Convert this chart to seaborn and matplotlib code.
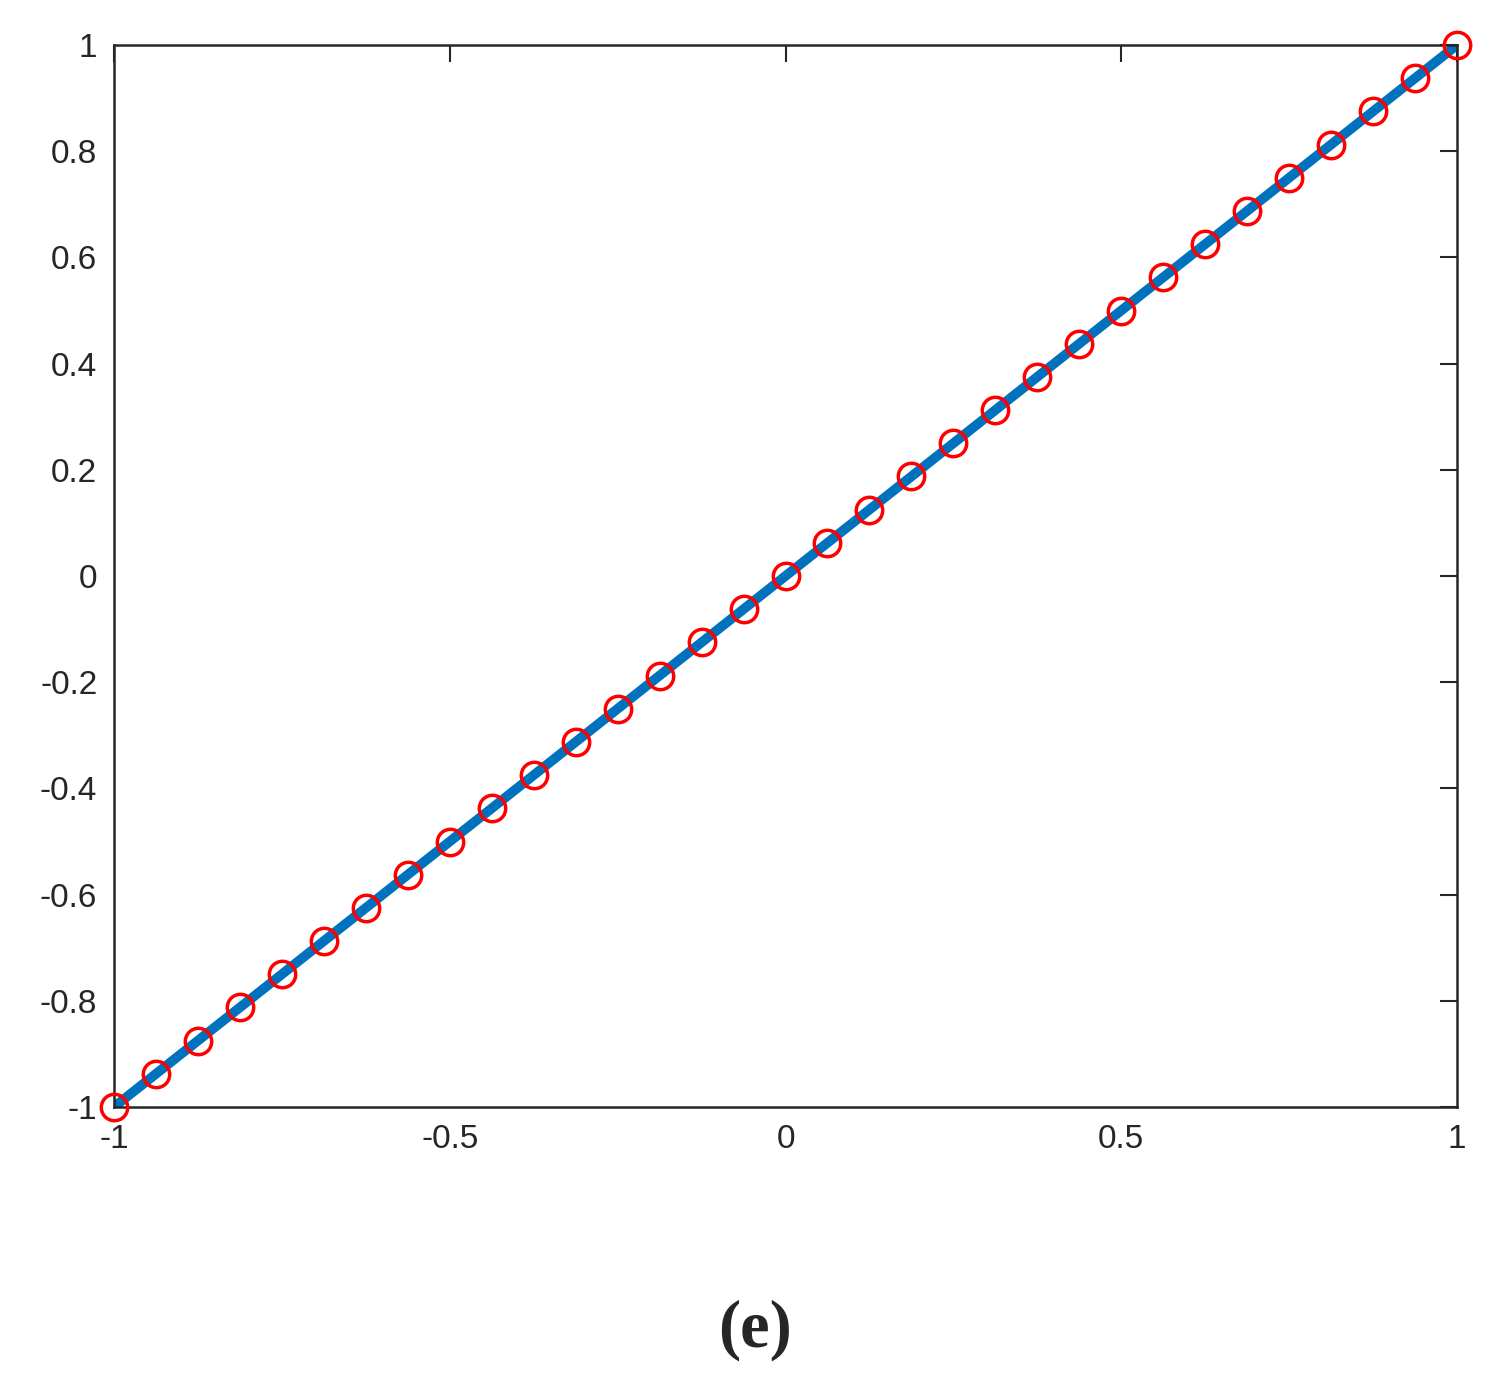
import matplotlib
matplotlib.use("Agg")
import matplotlib.pyplot as plt
import seaborn as sns
import pandas as pd

sns.set_style("white")
plt.rcParams['font.family'] = ['Liberation Sans', 'DejaVu Sans']

x_vals = [-1.0, -0.9375, -0.875, -0.8125, -0.75, -0.6875, -0.625, -0.5625, -0.5,
          -0.4375, -0.375, -0.3125, -0.25, -0.1875, -0.125, -0.0625, 0.0,
          0.0625, 0.125, 0.1875, 0.25, 0.3125, 0.375, 0.4375, 0.5,
          0.5625, 0.625, 0.6875, 0.75, 0.8125, 0.875, 0.9375, 1.0]
y_vals = [-1.0, -0.9375, -0.875, -0.8125, -0.75, -0.6875, -0.625, -0.5625, -0.5,
          -0.4375, -0.375, -0.3125, -0.25, -0.1875, -0.125, -0.0625, 0.0,
          0.0625, 0.125, 0.1875, 0.25, 0.3125, 0.375, 0.4375, 0.5,
          0.5625, 0.625, 0.6875, 0.75, 0.8125, 0.875, 0.9375, 1.0]
x_ticks = [-1, -0.5, 0, 0.5, 1]
x_labels = ["-1", "-0.5", "0", "0.5", "1"]
y_ticks = [-1, -0.8, -0.6, -0.4, -0.2, 0, 0.2, 0.4, 0.6, 0.8, 1]
y_labels = ["-1", "-0.8", "-0.6", "-0.4", "-0.2", "0", "0.2", "0.4", "0.6", "0.8", "1"]
panel_label = "(e)"

df = pd.DataFrame({"x": x_vals, "y": y_vals})

fig = plt.figure(figsize=(14.95, 13.97), dpi=100)
ax = fig.add_axes([114/1495, 1 - 1107/1397, (1457-114)/1495, (1107-45)/1397])

sns.lineplot(data=df, x="x", y="y", ax=ax, color="#0072BD", linewidth=7, zorder=2)
ax.plot(df["x"], df["y"], linestyle="none", marker="o", markersize=19,
        markerfacecolor="none", markeredgecolor="red", markeredgewidth=2.5,
        zorder=3, clip_on=False)

ax.set_xlim(-1, 1)
ax.set_ylim(-1, 1)
ax.set_xticks(x_ticks)
ax.set_xticklabels(x_labels)
ax.set_yticks(y_ticks)
ax.set_yticklabels(y_labels)
ax.set_xlabel("")
ax.set_ylabel("")
ax.tick_params(axis="both", labelsize=24, colors="#262626", direction="in",
               length=12, width=1.5, top=True, right=True, pad=12)
for s in ax.spines.values():
    s.set_color("#262626")
    s.set_linewidth(1.8)

fig.text(755/1495, 1 - 1330/1397, panel_label, ha="center", va="center",
         fontsize=48, fontweight="bold", family=["Liberation Serif", "DejaVu Serif"])

fig.savefig("out.png", dpi=100)
